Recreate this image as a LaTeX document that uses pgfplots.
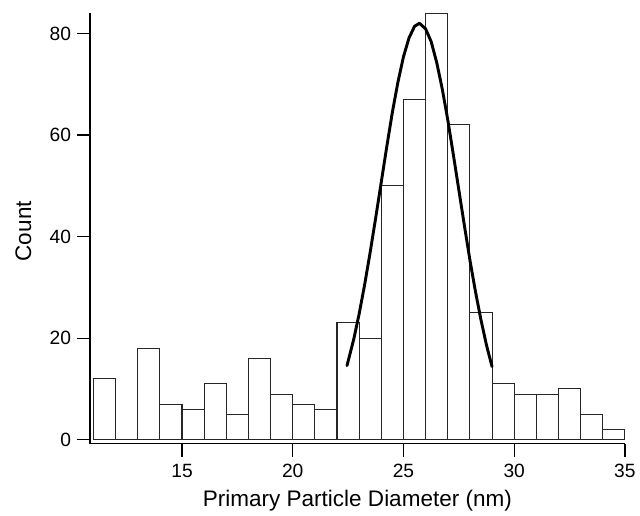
\documentclass[border=0pt]{standalone}
\usepackage{fontspec}
\setmainfont{Liberation Sans}
\usepackage{pgfplots}
\pgfplotsset{compat=1.18}

\begin{document}
\begin{tikzpicture}
\begin{axis}[
  scale only axis,
  width=404.1pt, height=325.7pt,
  xmin=10.84, xmax=35, ymin=-0.8, ymax=84.1,
  axis lines=left,
  axis line style={-, line width=1pt},
  tick align=outside,
  major tick length=9.75pt,
  tick style={line width=1pt, black},
  xtick={15,20,25,30,35}, ytick={0,20,40,60,80},
  minor tick num=0,
  /pgf/number format/assume math mode=true,
  xticklabel={\fontsize{14.5}{17}\selectfont\pgfmathprintnumber{\tick}},
  yticklabel={\fontsize{14.5}{17}\selectfont\pgfmathprintnumber{\tick}},
  xticklabel style={yshift=-2pt},
  yticklabel style={xshift=-1pt},
  xlabel={Primary Particle Diameter (nm)},
  ylabel={Count},
  label style={font=\fontsize{17}{20}\selectfont},
  xlabel style={at={(axis description cs:0.5,-0.145)}, anchor=base},
  ylabel style={at={(axis description cs:-0.1243,0.493)}, anchor=center},
]
\addplot[ybar interval=1, fill=white, draw=black!85, line width=0.8pt]
  coordinates {
    (11,12) (12,0) (13,18) (14,7) (15,6) (16,11) (17,5) (18,16)
    (19,9) (20,7) (21,6) (22,23) (23,20) (24,50) (25,67) (26,84)
    (27,62) (28,25) (29,11) (30,9) (31,9) (32,10) (33,5) (34,2) (35,2)
  };
\addplot[sharp plot, black, line width=2.2pt, line join=round, line cap=round]
  coordinates {
    (22.45,14.6) (22.75,19.7) (23.0,24.8) (23.25,30.6) (23.5,37.0)
    (23.75,43.8) (24.0,50.8) (24.25,57.8) (24.5,64.5) (24.75,70.4)
    (25.0,75.4) (25.25,79.1) (25.5,81.4) (25.72,82.0) (26.0,80.9)
    (26.25,78.4) (26.5,74.3) (26.75,69.1) (27.0,63.0) (27.25,56.2)
    (27.5,49.2) (27.75,42.2) (28.0,35.4) (28.25,29.2) (28.5,23.6)
    (28.75,18.6) (29.0,14.4)
  };
\coordinate (bl) at (rel axis cs:-0.168,-0.159);
\coordinate (tr) at (rel axis cs:1.0199,1.0292);
\end{axis}
\path (bl) rectangle (tr);
\end{tikzpicture}
\end{document}
